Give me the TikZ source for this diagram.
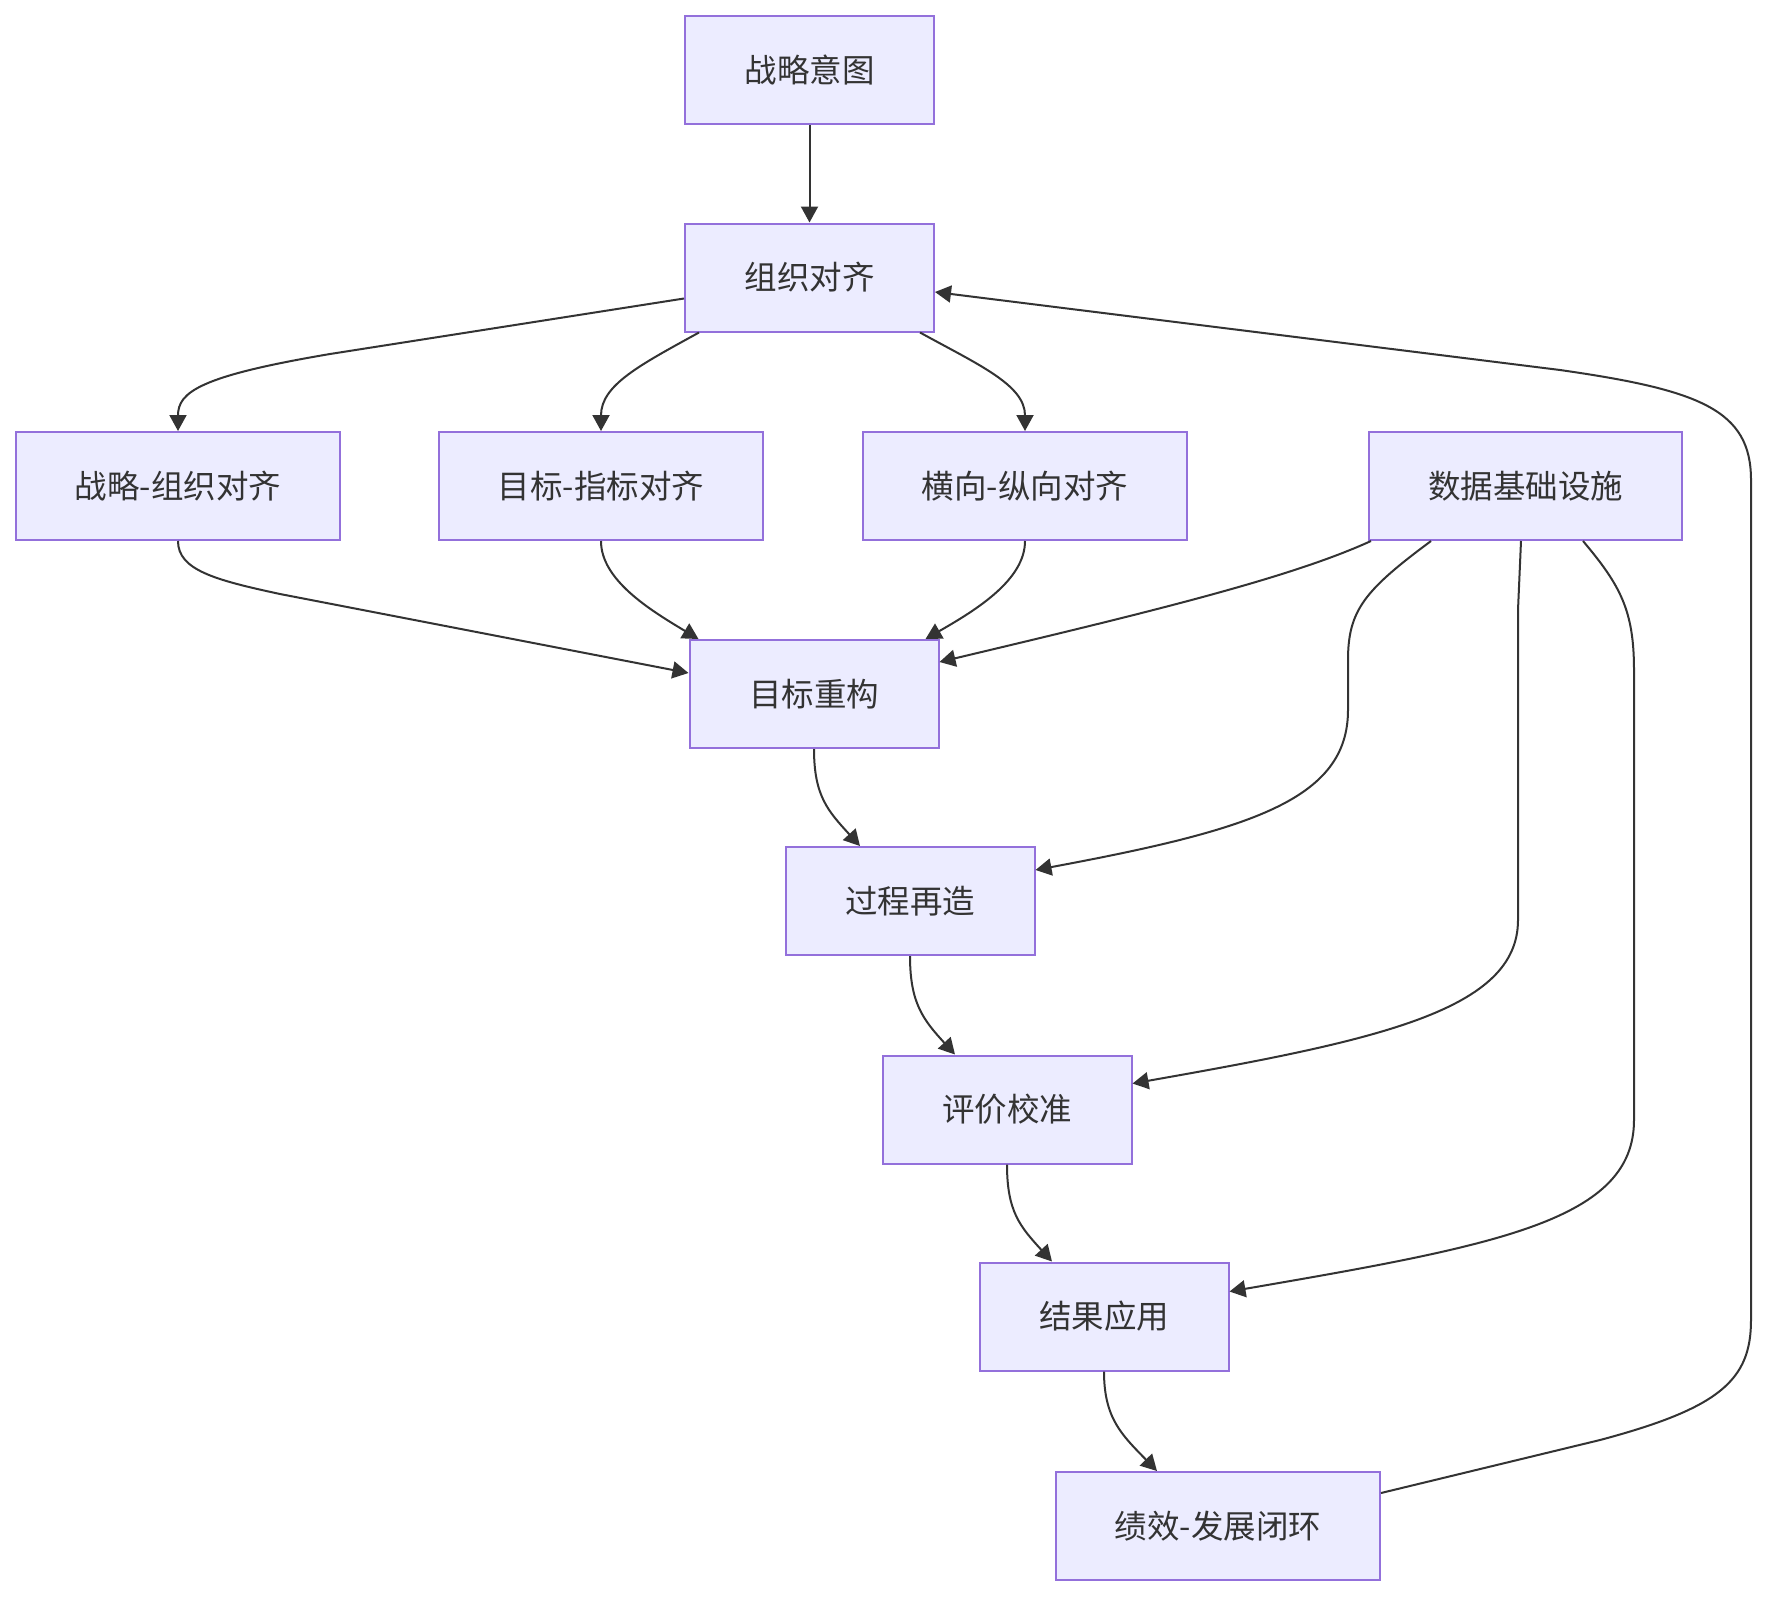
\documentclass[tikz,border=0pt]{standalone}
\usepackage{fontspec}
\setmainfont{Noto Sans CJK SC}
\usetikzlibrary{arrows.meta,calc}
\definecolor{nodefill}{HTML}{ECECFF}
\definecolor{nodeline}{HTML}{9370DB}
\definecolor{edgecol}{HTML}{333333}
\tikzset{
  box/.style={draw=nodeline, fill=nodefill, line width=2pt, minimum height=108pt,
    inner sep=0pt, text=edgecol, font=\fontsize{32.5}{38}\selectfont},
  wfour/.style={box, minimum width=249pt},
  wsix/.style={box, minimum width=324pt},
  conn/.style={draw=edgecol, line width=2pt, -{Triangle[length=16pt,width=17pt]}},
}
\begin{document}
\begin{tikzpicture}[x=1pt,y=-1pt]
\fill[white] (0,0) rectangle (1767,1596);
\useasboundingbox (0,0) rectangle (1767,1596);
\node[wfour] (n1) at (809.5,70) {战略意图};
\node[wfour] (n2) at (809.5,277.5) {组织对齐};
\node[wsix] (n3) at (178,486) {战略-组织对齐};
\node[wsix] (n4) at (601,486) {目标-指标对齐};
\node[wsix] (n5) at (1025,486) {横向-纵向对齐};
\node[box, minimum width=313pt] (n6) at (1525.5,486) {数据基础设施};
\node[wfour] (n7) at (814,694) {目标重构};
\node[wfour] (n8) at (910,901) {过程再造};
\node[wfour] (n9) at (1007,1109.5) {评价校准};
\node[wfour] (n10) at (1104,1316.5) {结果应用};
\node[wsix] (n11) at (1218,1526) {绩效-发展闭环};

\draw[conn] (n1) -- (n2);
\draw[conn] ([yshift=-21pt]n2.west) -- (330,354) .. controls (200,376) and (178,392) .. (n3.north);
\draw[conn] ([xshift=15pt]n2.south west) .. controls (640,365) and (601,385) .. (n4.north);
\draw[conn] ([xshift=-15pt]n2.south east) .. controls (979,365) and (1025,385) .. (n5.north);
\draw[conn] ([yshift=33pt]n11.east) -- (1600,1440) .. controls (1720,1408) and (1751,1380) .. (1751,1320) -- (1751,480) .. controls (1751,410) and (1700,390) .. (1560,370) -- ([yshift=-14.5pt]n2.east);
\draw[conn] (n3.south) .. controls (178,570) and (215,580) .. (280,594) -- ([yshift=21pt]n7.west);
\draw[conn] (n4.south) .. controls (601,580) and (650,610) .. ([xshift=10pt]n7.north west);
\draw[conn] (n5.south) .. controls (1025,580) and (976,610) .. ([xshift=-14pt]n7.north east);
\draw[conn] ([xshift=3pt]n6.south west) .. controls (1290,578) and (1150,612) .. ([yshift=32pt]n7.east);
\draw[conn] ([xshift=63pt]n6.south west) .. controls (1365,590) and (1348,610) .. (1348,660) -- (1348,710) .. controls (1348,800) and (1250,830) .. ([yshift=31pt]n8.east);
\draw[conn] ([xshift=-4.5pt]n6.south) -- (1518,610) -- (1518,920) .. controls (1518,1010) and (1380,1040) .. ([yshift=26pt]n9.east);
\draw[conn] ([xshift=-100pt]n6.south east) .. controls (1620,585) and (1634,610) .. (1634,670) -- (1634,1120) .. controls (1634,1220) and (1500,1245) .. ([yshift=25pt]n10.east);
\draw[conn] (n7.south) .. controls +(0,47) and +(-32,-35) .. ([xshift=-50pt]n8.north);
\draw[conn] (n8.south) .. controls +(0,47) and +(-32,-35) .. ([xshift=-52pt]n9.north);
\draw[conn] (n9.south) .. controls +(0,47) and +(-32,-35) .. ([xshift=-52pt]n10.north);
\draw[conn] (n10.south) .. controls +(0,47) and +(-35,-36) .. ([xshift=-61pt]n11.north);
\end{tikzpicture}
\end{document}
